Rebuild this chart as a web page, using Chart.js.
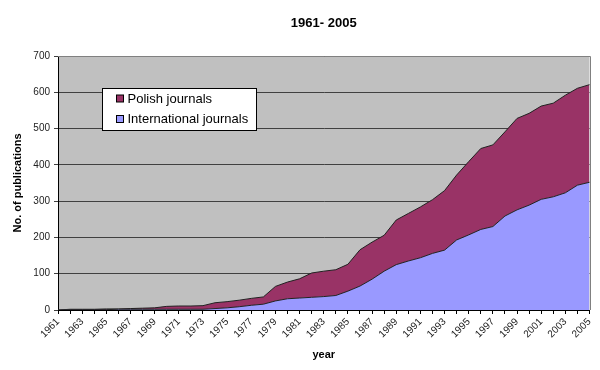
<!DOCTYPE html>
<html>
<head>
<meta charset="utf-8">
<script src="https://cdn.jsdelivr.net/npm/chart.js@4.4.1/dist/chart.umd.min.js"></script>
<style>
html,body{margin:0;padding:0;background:#fff;}
#wrap{width:600px;height:370px;}
</style>
</head>
<body>
<div id="wrap"><canvas id="c" width="600" height="370"></canvas></div>
<script>
const years = ['1961','1962','1963','1964','1965','1966','1967','1968','1969','1970',
  '1971','1972','1973','1974','1975','1976','1977','1978','1979','1980',
  '1981','1982','1983','1984','1985','1986','1987','1988','1989','1990',
  '1991','1992','1993','1994','1995','1996','1997','1998','1999','2000',
  '2001','2002','2003','2004','2005'];

const internationalJournals = [0,1,1,1,1,2,2,2,2,2,
  2,2,2,4,6,9,13,16,25,31,
  33,35,37,40,52,66,85,107,125,135,
  144,156,165,193,207,222,230,259,276,289,
  305,312,323,344,352];

const polishJournals = [0,1,1,1,2,1,2,3,4,8,
  9,9,10,16,17,18,19,20,40,46,
  53,67,70,71,74,100,102,99,123,131,
  140,148,164,179,202,223,225,232,252,253,
  257,258,269,267,269];

const yTicks = [0,100,200,300,400,500,600,700];
const xLabelEvery = 2;

const FONT = "'Liberation Sans', Arial, sans-serif";

const plotPlugin = {
  id: 'plotDeco',
  beforeDraw(chart) {
    const {ctx, chartArea: a} = chart;
    ctx.save();
    ctx.fillStyle = '#ffffff';
    ctx.fillRect(0, 0, chart.width, chart.height);
    ctx.fillStyle = '#C0C0C0';
    ctx.fillRect(a.left, a.top, a.right - a.left, a.bottom - a.top);
    ctx.restore();
  },
  afterDatasetsDraw(chart) {
    const {ctx, chartArea: a} = chart;
    ctx.save();
    ctx.strokeStyle = '#808080';
    ctx.lineWidth = 1;
    ctx.beginPath();
    ctx.moveTo(a.left, Math.round(a.top) + 0.5);
    ctx.lineTo(Math.round(a.right) + 0.5, Math.round(a.top) + 0.5);
    ctx.lineTo(Math.round(a.right) + 0.5, a.bottom);
    ctx.stroke();
    ctx.restore();
  },
  afterDraw(chart) {
    const {ctx, chartArea: a} = chart;
    const ds = chart.data.datasets;
    const order = [1, 0];
    const bx = Math.round(a.left) + 44.5, by = Math.round(a.top) + 32.5;
    const bw = 154, bh = 42;
    ctx.save();
    ctx.fillStyle = '#ffffff';
    ctx.fillRect(bx, by, bw, bh);
    ctx.strokeStyle = '#000';
    ctx.lineWidth = 1;
    ctx.strokeRect(bx, by, bw, bh);
    ctx.font = '13px ' + FONT;
    ctx.textBaseline = 'middle';
    ctx.textAlign = 'left';
    order.forEach((di, k) => {
      const cy = by + 10.5 + k * 20.5;
      ctx.fillStyle = ds[di].backgroundColor;
      ctx.fillRect(bx + 14, cy - 4, 7, 7);
      ctx.strokeStyle = '#000';
      ctx.strokeRect(bx + 14, cy - 4, 7, 7);
      ctx.fillStyle = '#000';
      ctx.fillText(ds[di].label, bx + 25, cy);
    });
    ctx.restore();
  }
};

new Chart(document.getElementById('c'), {
  type: 'line',
  data: {
    labels: years,
    datasets: [
      {
        label: 'International journals',
        data: internationalJournals,
        backgroundColor: '#9999FF',
        borderColor: '#222222',
        borderWidth: 1,
        fill: 'origin',
        pointRadius: 0,
        tension: 0
      },
      {
        label: 'Polish journals',
        data: polishJournals,
        backgroundColor: '#993366',
        borderColor: '#222222',
        borderWidth: 1,
        fill: '-1',
        pointRadius: 0,
        tension: 0
      }
    ]
  },
  options: {
    responsive: false,
    animation: false,
    layout: {padding: {left: 0, right: 8, top: 0, bottom: 0}},
    plugins: {
      legend: {display: false},
      tooltip: {enabled: false},
      title: {
        display: true,
        text: '1961- 2005',
        fullSize: false,
        color: '#000',
        font: {family: FONT, size: 13, weight: 'bold'},
        padding: {top: 16, bottom: 24.4}
      }
    },
    scales: {
      x: {
        type: 'category',
        offset: false,
        grid: {display: true, drawOnChartArea: false, drawTicks: true, tickLength: 4, color: '#000'},
        border: {display: true, color: '#000', width: 1},
        ticks: {
          autoSkip: false,
          maxRotation: 45,
          minRotation: 45,
          padding: 2,
          color: '#222',
          font: {family: FONT, size: 10},
          callback: (v, i) => (i % xLabelEvery === 0 ? years[i] : '')
        },
        title: {
          display: true,
          text: 'year',
          color: '#000',
          font: {family: FONT, size: 11, weight: 'bold'},
          padding: {top: 0, bottom: 8}
        },
        afterFit: s => { s.height = 60; }
      },
      y: {
        stacked: true,
        min: 0,
        max: 700,
        afterBuildTicks: s => { s.ticks = yTicks.map(v => ({value: v})); },
        ticks: {
          padding: 4,
          color: '#222',
          font: {family: FONT, size: 10}
        },
        grid: {color: '#404040', tickLength: 4, drawTicks: true},
        border: {display: true, color: '#000', width: 1},
        title: {
          display: true,
          text: 'No. of publications',
          color: '#000',
          font: {family: FONT, size: 11, weight: 'bold'},
          padding: {top: 11, bottom: 0}
        },
        afterFit: s => { s.width = 58; }
      }
    }
  },
  plugins: [plotPlugin]
});
</script>
</body>
</html>
